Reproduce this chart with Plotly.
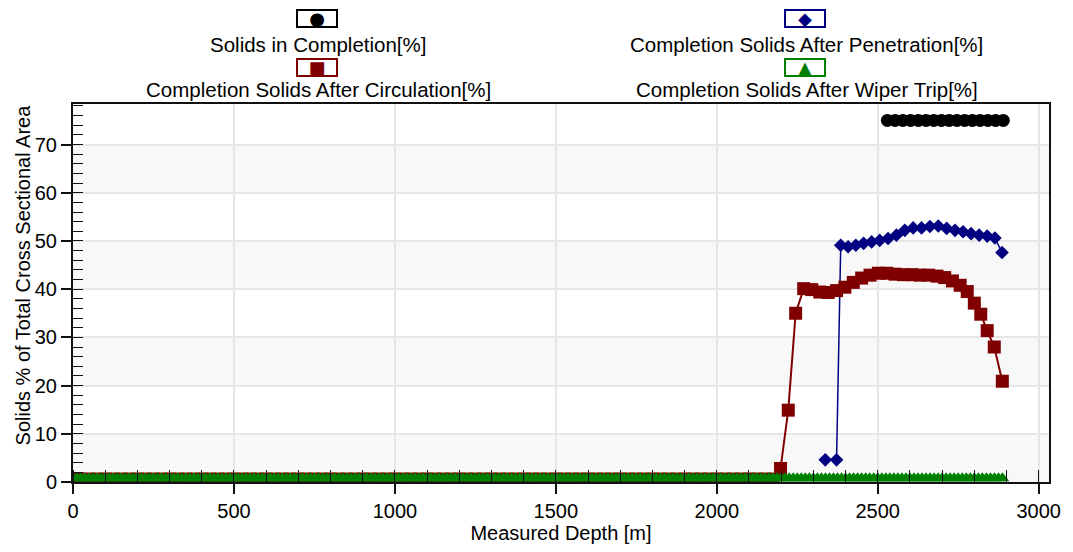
import numpy as np
import plotly.graph_objects as go

# Survey stations for the flat part of the profile [m]
wiper_depth = np.arange(0, 2900, 12.5)
wiper_level = 0.8          # wiper trip solids stay near zero along the whole well
circ_flat_depth = np.arange(0, 2180, 25)
circ_flat_level = 0.6

# Solids in completion [%]
compl_depth = [2530, 2554, 2578, 2602, 2626, 2650, 2674, 2698, 2722, 2746, 2770, 2794, 2818, 2842, 2866, 2890]
compl_pct = [75.0, 75.0, 75.0, 75.0, 75.0, 75.0, 75.0, 75.0, 75.0, 75.0, 75.0, 75.0, 75.0, 75.0, 75.0, 75.0]

# Completion solids after penetration [%]
pen_depth = [2337, 2372, 2385, 2408, 2432, 2456, 2481, 2506, 2532, 2558, 2584, 2610, 2636, 2662,
             2688, 2714, 2740, 2765, 2790, 2815, 2840, 2864, 2886]
pen_pct = [4.6, 4.6, 49.1, 48.8, 49.1, 49.5, 49.8, 50.1, 50.5, 51.2, 52.2, 52.7, 52.7, 53.0,
           53.1, 52.6, 52.2, 51.9, 51.5, 51.2, 51.0, 50.6, 47.6]

# Completion solids after circulation [%] (visible part)
circ_depth = [2198, 2222, 2245, 2270, 2295, 2320, 2346, 2372, 2398, 2424, 2450, 2476, 2502, 2528, 2554,
              2580, 2606, 2632, 2658, 2684, 2708, 2732, 2756, 2778, 2800, 2820, 2840, 2862, 2887]
circ_pct = [2.8, 14.9, 35.0, 40.1, 39.9, 39.4, 39.3, 39.7, 40.4, 41.4, 42.3, 42.9, 43.3, 43.3, 43.1,
            43.0, 43.0, 42.9, 42.9, 42.7, 42.4, 41.7, 40.8, 39.5, 37.1, 34.8, 31.4, 28.0, 20.9]

names = ["Solids in Completion[%]", "Completion Solids After Penetration[%]",
         "Completion Solids After Circulation[%]", "Completion Solids After Wiper Trip[%]"]
colors = ["#000000", "#000080", "#800000", "#008000"]
symbols = ["●", "◆", "■", "▲"]

FONT = "Liberation Sans, Arial, sans-serif"

fig = go.Figure()

fig.add_trace(go.Scatter(x=compl_depth, y=compl_pct, mode="lines+markers",
                         line=dict(color=colors[0], width=1),
                         marker=dict(symbol="circle", size=13, color=colors[0])))
fig.add_trace(go.Scatter(x=pen_depth, y=pen_pct, mode="lines+markers",
                         line=dict(color=colors[1], width=1.5),
                         marker=dict(symbol="diamond", size=10.5, color=colors[1])))
fig.add_trace(go.Scatter(x=list(circ_flat_depth) + circ_depth,
                         y=[circ_flat_level] * len(circ_flat_depth) + circ_pct,
                         mode="lines+markers", line=dict(color=colors[2], width=2),
                         marker=dict(symbol="square", size=13, color=colors[2])))
fig.add_trace(go.Scatter(x=wiper_depth, y=[wiper_level] * len(wiper_depth), mode="lines+markers",
                         line=dict(color=colors[3], width=1),
                         marker=dict(symbol="triangle-up", size=12, color=colors[3])))

# alternating light bands behind the grid
shapes = []
for v in range(0, 80, 20):
    shapes.append(dict(type="rect", xref="paper", yref="y", x0=0, x1=1, y0=v, y1=v + 10,
                       fillcolor="#f8f8f8", line=dict(width=0), layer="below"))

# custom legend: symbol box above the name, two columns
annotations = []
leg_x = [0.25, 0.75, 0.25, 0.75]
leg_box_y = [1.225, 1.225, 1.097, 1.097]
leg_txt_y = [1.157, 1.157, 1.038, 1.038]
for name, col, sym, lx, by, ty in zip(names, colors, symbols, leg_x, leg_box_y, leg_txt_y):
    annotations.append(dict(xref="paper", yref="paper", x=lx, y=by, text=sym, showarrow=False,
                            font=dict(family="DejaVu Sans", size=18, color=col),
                            bordercolor=col, borderwidth=2, borderpad=0, width=38, height=15,
                            xanchor="center", yanchor="middle"))
    annotations.append(dict(xref="paper", yref="paper", x=lx + 0.002, y=ty, text=name,
                            showarrow=False, font=dict(family=FONT, size=20.5, color="black"),
                            borderpad=0, xanchor="center", yanchor="middle"))

annotations.append(dict(xref="paper", yref="paper", x=-0.051, y=0.547,
                        text="Solids % of Total Cross Sectional Area", textangle=-90,
                        showarrow=False, font=dict(family=FONT, size=20, color="black"),
                        xanchor="center", yanchor="middle"))

# page body keeps an 8px margin, so the figure is 8px smaller and margins shifted
fig.update_layout(
    width=1065, height=544, autosize=False,
    margin=dict(l=65, r=22, t=96, b=66),
    paper_bgcolor="white", plot_bgcolor="white",
    showlegend=False,
    font=dict(family=FONT, size=20, color="black"),
    shapes=shapes, annotations=annotations,
    xaxis=dict(range=[0, 3032], dtick=500, tick0=0, showgrid=True, gridcolor="#e6e6e6", gridwidth=1.5,
               zeroline=False, showline=True, linecolor="#111", linewidth=2, mirror=True,
               ticks="outside", ticklen=10, tickwidth=1.5, tickcolor="#111",
               minor=dict(dtick=100, ticks="inside", ticklen=12, tickwidth=1.2, tickcolor="#111", showgrid=False),
               title=dict(text="Measured Depth [m]", font=dict(size=20), standoff=4)),
    yaxis=dict(range=[0, 78.4], dtick=10, tick0=0, showgrid=True, gridcolor="#e6e6e6", gridwidth=1.5,
               zeroline=False, showline=True, linecolor="#111", linewidth=2, mirror=True,
               ticks="outside", ticklen=10, tickwidth=1.5, tickcolor="#111",
               minor=dict(dtick=2, ticks="inside", ticklen=10, tickwidth=1.2, tickcolor="#111", showgrid=False)),
)

fig.write_html("out.html")
